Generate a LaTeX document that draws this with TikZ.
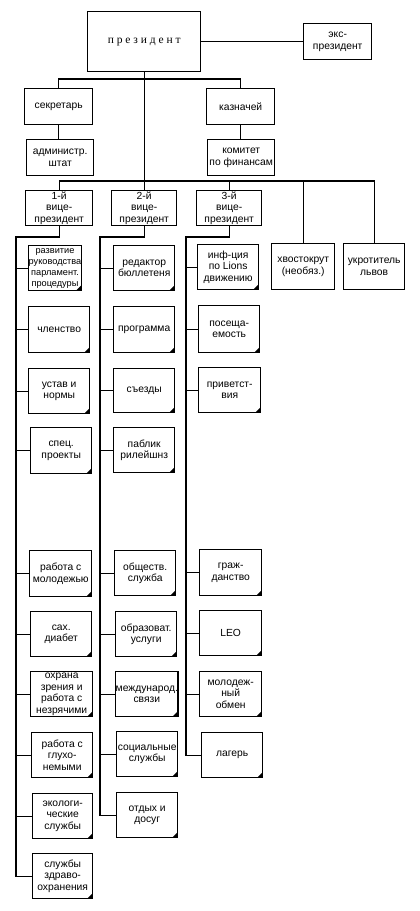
\documentclass[tikz,border=0pt]{standalone}
\usepackage{fontspec}
\setmainfont{Liberation Sans}
\newfontfamily\titlefont{Liberation Serif}
\newcommand\bx[7][box]{\node[#1, minimum width={#5pt-#3pt}, minimum height={#6pt-#4pt}, anchor=north west] (#2) at (#3,#4) {#7};}
\begin{document}
\begin{tikzpicture}[x=1pt,y=-1pt,
  box/.style={draw, line width=1.4pt, inner sep=0pt, align=center, font=\fontsize{10.3}{11.4}\selectfont},
  kid/.style={box, path picture={\fill[black] (path picture bounding box.south east) -- ++(-5.5pt,0pt) -- ++(5.5pt,5.5pt) -- cycle;}},
  ln/.style={line width=1.4pt}]
\useasboundingbox (0,0) rectangle (420,911);
% top level
\bx[box, font=\titlefont\fontsize{11.5}{12}\selectfont]{pres}{87}{11}{200}{71}{п р е з и д е н т}
\bx{ex}{303}{23}{371}{59}{экс-\\президент}
\bx{sec}{24}{88}{92}{124}{секретарь}
\bx{kaz}{206}{88}{274}{124}{казначей}
\bx{adm}{26}{139}{93}{175}{администр.\\штат}
\bx{fin}{207}{139}{274}{175}{комитет\\по финансам}
\bx{vp1}{25}{190}{92}{225}{1-й\\вице-\\президент}
\bx{vp2}{111}{190}{176}{225}{2-й\\вице-\\президент}
\bx{vp3}{196}{190}{261}{225}{3-й\\вице-\\президент}
\bx{hvost}{271}{243}{334}{289}{хвостокрут\\(необяз.)}
\bx{ukr}{343}{243}{404}{289}{укротитель\\львов}
% column 1
\bx[kid, font=\fontsize{9.2}{10.9}\selectfont]{c1a}{28}{245}{80}{290}{развитие\\руководства\\парламент.\\процедуры}
\bx[kid]{c1b}{28}{306}{89}{352}{членство}
\bx[kid]{c1c}{28}{368}{89}{413}{устав и\\нормы}
\bx[kid]{c1d}{30}{427}{91}{473}{спец.\\проекты}
\bx[kid]{c1e}{29}{550}{91}{596}{работа с\\молодежью}
\bx[kid]{c1f}{30}{611}{91}{656}{сах.\\диабет}
\bx[kid]{c1g}{30}{671}{92}{716}{охрана\\зрения и\\работа с\\незрячими}
\bx[kid]{c1h}{31}{732}{92}{777}{работа с\\глухо-\\немыми}
\bx[kid]{c1i}{32}{793}{92}{838}{экологи-\\ческие\\службы}
\bx[kid]{c1j}{32}{853}{92}{898}{службы\\здраво-\\охранения}
% column 2
\bx[kid]{c2a}{113}{245}{174}{290}{редактор\\бюллетеня}
\bx[kid]{c2b}{113}{306}{174}{352}{программа}
\bx[kid]{c2c}{113}{368}{174}{412}{съезды}
\bx[kid]{c2d}{113}{427}{174}{472}{паблик\\рилейшнз}
\bx[kid]{c2e}{114}{550}{175}{595}{обществ.\\служба}
\bx[kid]{c2f}{115}{611}{176}{656}{образоват.\\услуги}
\bx[kid]{c2g}{115}{671}{176}{716}{международ.\\связи}
\bx[kid]{c2h}{116}{731}{177}{776}{социальные\\службы}
\bx[kid]{c2i}{116}{792}{177}{837}{отдых и\\досуг}
% column 3
\bx[kid]{c3a}{197}{244}{258}{289}{инф-ция\\по Lions\\движению}
\bx[kid]{c3b}{198}{305}{259}{352}{посеща-\\емость}
\bx[kid]{c3c}{198}{367}{260}{412}{приветст-\\вия}
\bx[kid]{c3d}{199}{549}{261}{595}{граж-\\данство}
\bx[kid]{c3e}{199}{610}{261}{655}{LEO}
\bx[kid]{c3f}{199}{671}{261}{716}{молодеж-\\ный\\обмен}
\bx[kid]{c3g}{201}{732}{262}{777}{лагерь}
% connectors
\coordinate (bus1) at (0,79);
\coordinate (bus2) at (0,181);
\draw[ln] (pres.east) -- (ex.west);
\draw[ln] (sec.north) -- (sec.north |- bus1) -- (kaz.north |- bus1) -- (kaz.north);
\draw[ln] (sec.south) -- (sec.south |- adm.north);
\draw[ln] (kaz.south) -- (kaz.south |- fin.north);
\draw[ln] (pres.south) -- (pres.south |- bus2);
\draw[ln] (vp1.north) -- (vp1.north |- bus2) -- (ukr.north |- bus2) -- (ukr.north);
\foreach \n in {vp2,vp3,hvost} \draw[ln] (\n.north) -- (\n.north |- bus2);
\coordinate (s1) at (16,237);
\coordinate (s2) at (100,237);
\coordinate (s3) at (186,237);
\draw[ln] (vp1.south) |- (s1) -- (s1 |- c1j.west) -- (c1j.west);
\draw[ln] (vp2.south) |- (s2) -- (s2 |- c2i.west) -- (c2i.west);
\draw[ln] (vp3.south) |- (s3) -- (s3 |- c3g.west) -- (c3g.west);
\foreach \c in {c1a,c1b,c1c,c1d,c1e,c1f,c1g,c1h,c1i} \draw[ln] (s1 |- \c.west) -- (\c.west);
\foreach \c in {c2a,c2b,c2c,c2d,c2e,c2f,c2g,c2h} \draw[ln] (s2 |- \c.west) -- (\c.west);
\foreach \c in {c3a,c3b,c3c,c3d,c3e,c3f} \draw[ln] (s3 |- \c.west) -- (\c.west);
\end{tikzpicture}
\end{document}
